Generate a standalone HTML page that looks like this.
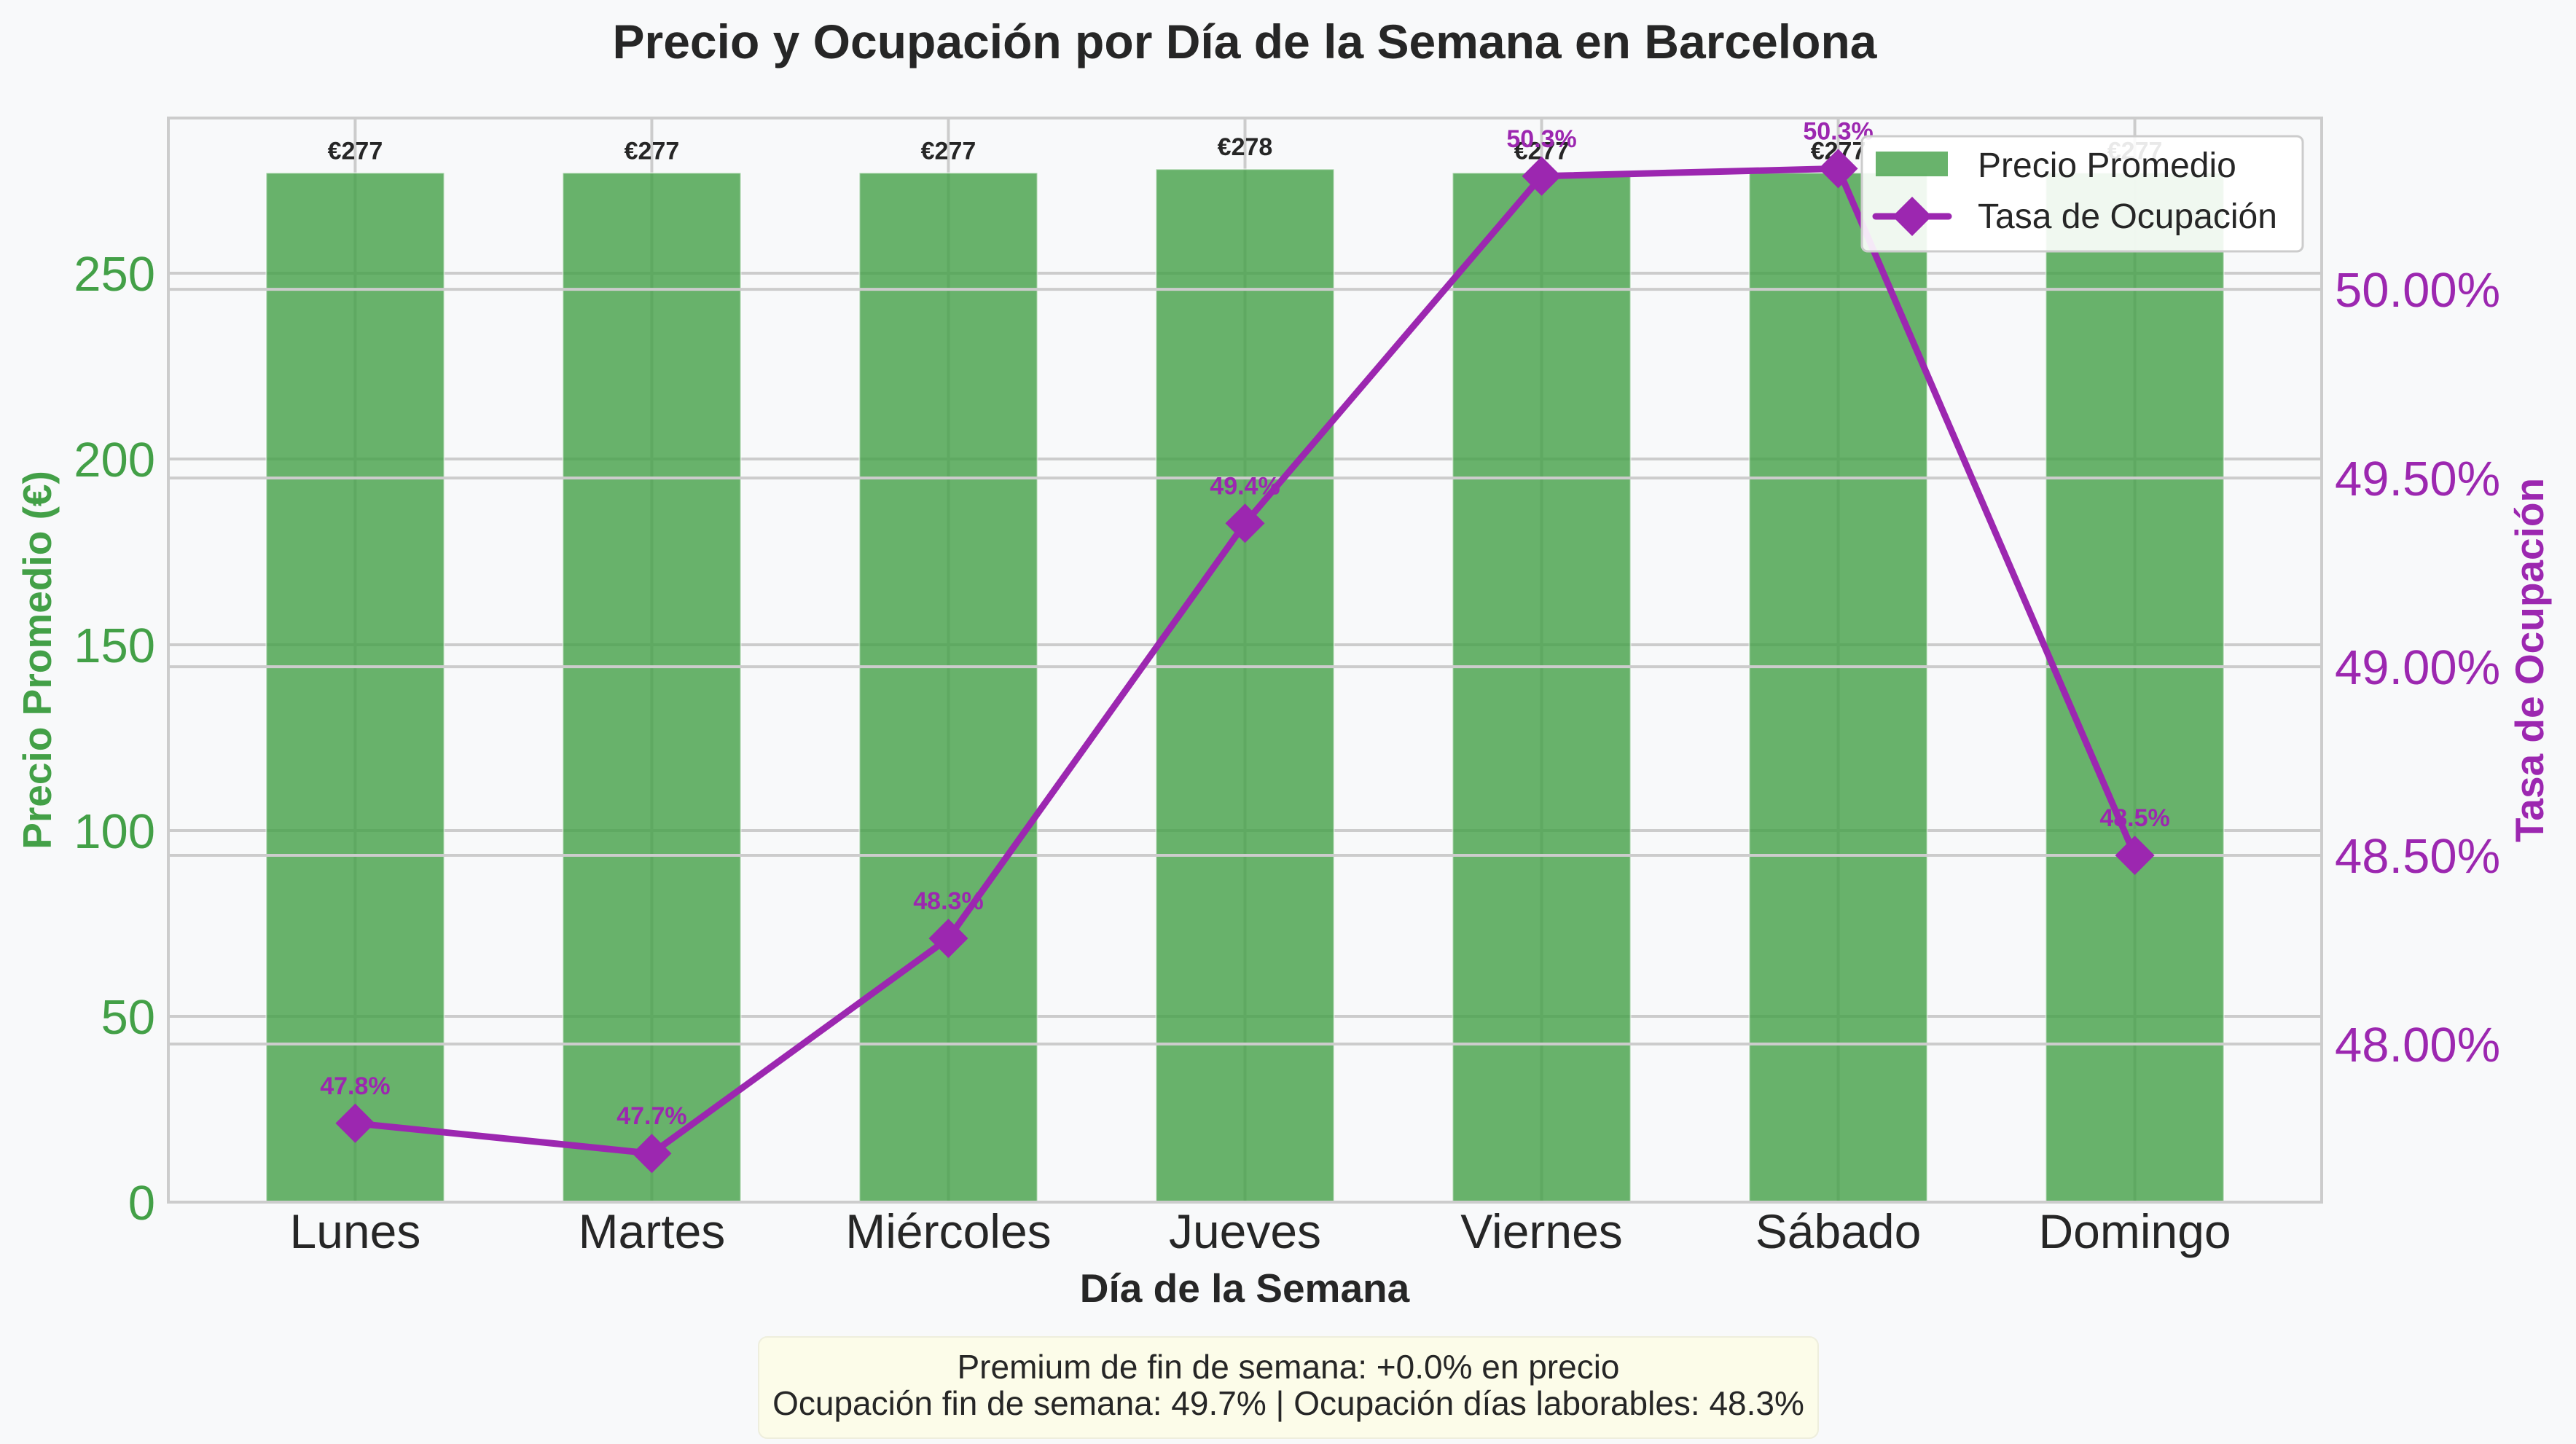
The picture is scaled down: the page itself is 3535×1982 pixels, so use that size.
<!DOCTYPE html>
<html><head><meta charset="utf-8"><style>
html,body{margin:0;padding:0;background:#f8f9fa;}
svg{display:block;font-family:"Liberation Sans",sans-serif;}
</style></head><body>
<svg id="chart" width="3535" height="1982" viewBox="0 0 3535 1982" xmlns="http://www.w3.org/2000/svg">
<rect width="3535" height="1982" fill="#f8f9fa"/>
<text x="1708" y="80" text-anchor="middle" font-size="66" font-weight="bold" fill="#262626">Precio y Ocupación por Día de la Semana en Barcelona</text>
<g id="g1"></g>
</svg>
<script>
const categories = ["Lunes","Martes","Miércoles","Jueves","Viernes","Sábado","Domingo"];
const prices = [277,277,277,278,277,277,277];
const occupancy = [47.79,47.71,48.28,49.38,50.30,50.32,48.50];
const occLabels = ["47.8%","47.7%","48.3%","49.4%","50.3%","50.3%","48.5%"];
const priceTicks = [0,50,100,150,200,250];
const occTicks = [48.0,48.5,49.0,49.5,50.0];

const L=231,R=3186,T=162,B=1650;
const xMin=-0.63,xMax=6.63;
const yMax=(B-T)/5.1;
const oMin=47.581,oMax=50.454;
const X=i=>L+(i-xMin)/(xMax-xMin)*(R-L);
const Y=v=>B-v/yMax*(B-T);
const YR=v=>B-(v-oMin)/(oMax-oMin)*(B-T);
const NS="http://www.w3.org/2000/svg";
const g=document.getElementById('g1');
function mk(tag,attrs,parent,text){const e=document.createElementNS(NS,tag);for(const k in attrs)e.setAttribute(k,attrs[k]);if(text!==undefined)e.textContent=text;(parent||g).appendChild(e);return e;}
const bw=(X(0.3)-X(-0.3));

priceTicks.forEach(t=>{
  const l=mk('line',{x1:L,x2:R,y1:Y(t),y2:Y(t),stroke:'#cccccc','stroke-width':4});
  
  
  const tx=mk('text',{x:L-18,y:Y(t)+24,'text-anchor':'end','font-size':67,fill:'#43A047'},g,String(t));
  
  
});
categories.forEach((c,i)=>{
  const l=mk('line',{x1:X(i),x2:X(i),y1:T,y2:B,stroke:'#cccccc','stroke-width':4});
  
  
});
categories.forEach((c,i)=>{
  const r=mk('rect',{x:X(i)-bw/2,y:Y(prices[i]),width:bw,height:B-Y(prices[i]),fill:'#43A047','fill-opacity':0.8,stroke:'#ffffff','stroke-opacity':0.5,'stroke-width':2});
  
  
  const t=mk('text',{x:X(i),y:Y(prices[i])-19,'text-anchor':'middle','font-size':34,'font-weight':'bold',fill:'#262626'},g,'€'+prices[i]);
  
  
  const tk=mk('text',{x:X(i),y:1713,'text-anchor':'middle','font-size':66,fill:'#262626'},g,c);
  
  
});
occTicks.forEach(t=>{
  const l=mk('line',{x1:L,x2:R,y1:YR(t),y2:YR(t),stroke:'#cccccc','stroke-width':4});
  
  
  const tx=mk('text',{x:3204,y:YR(t)+24,'font-size':67,fill:'#9C27B0'},g,t.toFixed(2)+'%');
  
  
});
const sp=mk('rect',{x:L,y:T,width:R-L,height:B-T,fill:'none',stroke:'#cccccc','stroke-width':4});


const pts=occupancy.map((v,i)=>X(i)+','+YR(v)).join(' ');
const pl=mk('polyline',{points:pts,fill:'none',stroke:'#9C27B0','stroke-width':9,'stroke-linejoin':'round'});


occupancy.forEach((v,i)=>{
  const cx=X(i),cy=YR(v),d=27;
  const m=mk('polygon',{points:`${cx},${cy-d} ${cx+d},${cy} ${cx},${cy+d} ${cx-d},${cy}`,fill:'#9C27B0'});
  
  
  const t=mk('text',{x:cx,y:cy-40,'text-anchor':'middle','font-size':34,'font-weight':'bold',fill:'#9C27B0'},g,occLabels[i]);
  
  
});
const yl=mk('text',{x:0,y:0,transform:'translate(70,906) rotate(-90)','text-anchor':'middle','font-size':55,'font-weight':'bold',fill:'#43A047'},g,'Precio Promedio (€)');


const yr=mk('text',{x:0,y:0,transform:'translate(3490,906) rotate(-90)','text-anchor':'middle','font-size':55,'font-weight':'bold',fill:'#9C27B0'},g,'Tasa de Ocupación');


const xl=mk('text',{x:1708,y:1787,'text-anchor':'middle','font-size':55,'font-weight':'bold',fill:'#262626'},g,'Día de la Semana');


const lg=mk('g',{});


mk('rect',{x:2555,y:187,width:605,height:158,rx:8,fill:'#ffffff','fill-opacity':0.9,stroke:'#cccccc','stroke-width':3},lg);
const lp=mk('rect',{x:2574,y:208,width:99,height:34,fill:'#43A047','fill-opacity':0.8},lg);


const lt1=mk('text',{x:2714,y:243,'font-size':48,fill:'#262626'},lg,'Precio Promedio');


mk('line',{x1:2574,x2:2674,y1:297,y2:297,stroke:'#9C27B0','stroke-width':9,'stroke-linecap':'round'},lg);
mk('polygon',{points:'2624,270 2651,297 2624,324 2597,297',fill:'#9C27B0'},lg);
const lt2=mk('text',{x:2714,y:313,'font-size':48,fill:'#262626'},lg,'Tasa de Ocupación');


const sb=mk('g',{});


mk('rect',{x:1041,y:1835,width:1454,height:139,rx:12,fill:'#fcfce9',stroke:'#eeeedd','stroke-width':2},sb);
mk('text',{x:1768,y:1892,'text-anchor':'middle','font-size':46,fill:'#262626'},sb,'Premium de fin de semana: +0.0% en precio');
mk('text',{x:1768,y:1942,'text-anchor':'middle','font-size':46,fill:'#262626'},sb,'Ocupación fin de semana: 49.7% | Ocupación días laborables: 48.3%');
</script>
</body></html>
